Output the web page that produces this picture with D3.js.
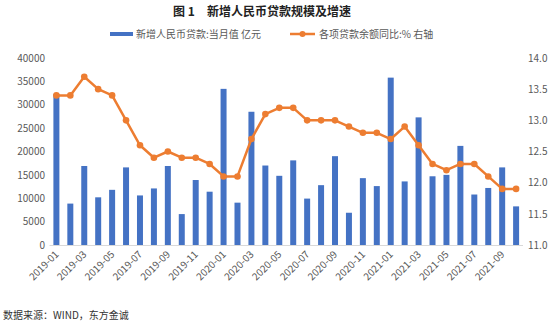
<!DOCTYPE html>
<html><head><meta charset="utf-8">
<script src="https://cdn.jsdelivr.net/npm/d3@7"></script>
<style>body{margin:0;background:#fff;}svg{display:block;}</style>
</head><body>
<svg id="c" width="550" height="324"></svg>
<script>
const months = ["2019-01","2019-02","2019-03","2019-04","2019-05","2019-06","2019-07","2019-08","2019-09","2019-10","2019-11","2019-12",
"2020-01","2020-02","2020-03","2020-04","2020-05","2020-06","2020-07","2020-08","2020-09","2020-10","2020-11","2020-12",
"2021-01","2021-02","2021-03","2021-04","2021-05","2021-06","2021-07","2021-08","2021-09","2021-10"];
const newLoans = [32300,8858,16900,10200,11800,16600,10600,12100,16900,6613,13900,11400,
33400,9057,28500,17000,14800,18100,9927,12800,19000,6898,14300,12600,
35800,13600,27300,14700,15000,21200,10800,12200,16600,8262];
const loanGrowth = [13.4,13.4,13.7,13.5,13.4,13.0,12.6,12.4,12.5,12.4,12.4,12.3,
12.1,12.1,12.7,13.1,13.2,13.2,13.0,13.0,13.0,12.9,12.8,12.8,
12.7,12.9,12.6,12.3,12.2,12.3,12.3,12.1,11.9,11.9];
const leftTicks = [0,5000,10000,15000,20000,25000,30000,35000,40000];
const rightTicks = [11.0,11.5,12.0,12.5,13.0,13.5,14.0];
const xTickLabels = months.filter((m,i)=>i%2===0);
const title = "图 1　新增人民币贷款规模及增速";
const seriesNames = ["新增人民币贷款:当月值 亿元","各项贷款余额同比:% 右轴"];
const source = "数据来源：WIND，东方金诚";

const svg = d3.select("#c");
const font = "'Microsoft YaHei','Noto Sans CJK SC',sans-serif";
const blue = "#4472C4", orange = "#ED7D31", txt = "#595959";

const x = d3.scaleBand().domain(months).range([49.5,523]).paddingInner(0.57).paddingOuter(0.28);
const yL = d3.scaleLinear().domain([0,40000]).range([245,58]);
const yR = d3.scaleLinear().domain([11,14]).range([245,58]);

// title
svg.append("text").attr("x",262).attr("y",16).attr("text-anchor","middle")
  .attr("font-family",font).attr("font-size",12).attr("font-weight","bold").attr("fill","#222").text(title);

// legend
svg.append("rect").attr("x",110).attr("y",32).attr("width",23).attr("height",4).attr("fill",blue);
svg.append("text").attr("x",136).attr("y",38).attr("font-family",font).attr("font-size",10).attr("fill",txt).text(seriesNames[0]);
svg.append("line").attr("x1",290).attr("x2",315).attr("y1",34).attr("y2",34).attr("stroke",orange).attr("stroke-width",2.5);
svg.append("circle").attr("cx",302.5).attr("cy",34).attr("r",3).attr("fill",orange);
svg.append("text").attr("x",319).attr("y",38).attr("font-family",font).attr("font-size",10).attr("fill",txt).text(seriesNames[1]);

// bars
svg.append("g").selectAll("rect").data(months).join("rect")
  .attr("x",d=>x(d)).attr("width",x.bandwidth())
  .attr("y",(d,i)=>yL(newLoans[i])).attr("height",(d,i)=>yL(0)-yL(newLoans[i]))
  .attr("fill",blue);

// baseline
svg.append("line").attr("x1",49.5).attr("x2",523).attr("y1",245.5).attr("y2",245.5).attr("stroke","#d9d9d9").attr("stroke-width",1);

// left axis
const gL = svg.append("g").attr("transform","translate(45,0)")
  .call(d3.axisLeft(yL).tickValues(leftTicks).tickSize(0).tickPadding(0).tickFormat(d3.format("d")));
gL.select(".domain").remove();
gL.selectAll("text").attr("font-family",font).attr("font-size",10).attr("fill",txt);

// right axis
const gR = svg.append("g").attr("transform","translate(528,0)")
  .call(d3.axisRight(yR).tickValues(rightTicks).tickSize(0).tickPadding(0).tickFormat(d3.format(".1f")));
gR.select(".domain").remove();
gR.selectAll("text").attr("font-family",font).attr("font-size",10).attr("fill",txt);

// x axis
const gX = svg.append("g").attr("transform","translate(0,246)")
  .call(d3.axisBottom(x).tickValues(xTickLabels).tickSize(0).tickPadding(0));
gX.select(".domain").remove();
gX.selectAll("text").attr("font-family",font).attr("font-size",10).attr("fill",txt)
  .attr("text-anchor","end").attr("dy",0)
  .attr("transform","translate(3,9) rotate(-45)");

// line
const cx = (d,i)=>x(months[i])+x.bandwidth()/2;
svg.append("path").datum(loanGrowth)
  .attr("d",d3.line().x(cx).y(d=>yR(d)))
  .attr("fill","none").attr("stroke",orange).attr("stroke-width",2.5).attr("stroke-linejoin","round");
svg.append("g").selectAll("circle").data(loanGrowth).join("circle")
  .attr("cx",cx).attr("cy",d=>yR(d)).attr("r",3.3).attr("fill",orange);

// source
svg.append("text").attr("x",3).attr("y",319).attr("font-family","'Noto Sans CJK SC','DejaVu Sans Mono',monospace")
  .attr("font-size",10).attr("fill","#333").text(source);
</script>
</body></html>
